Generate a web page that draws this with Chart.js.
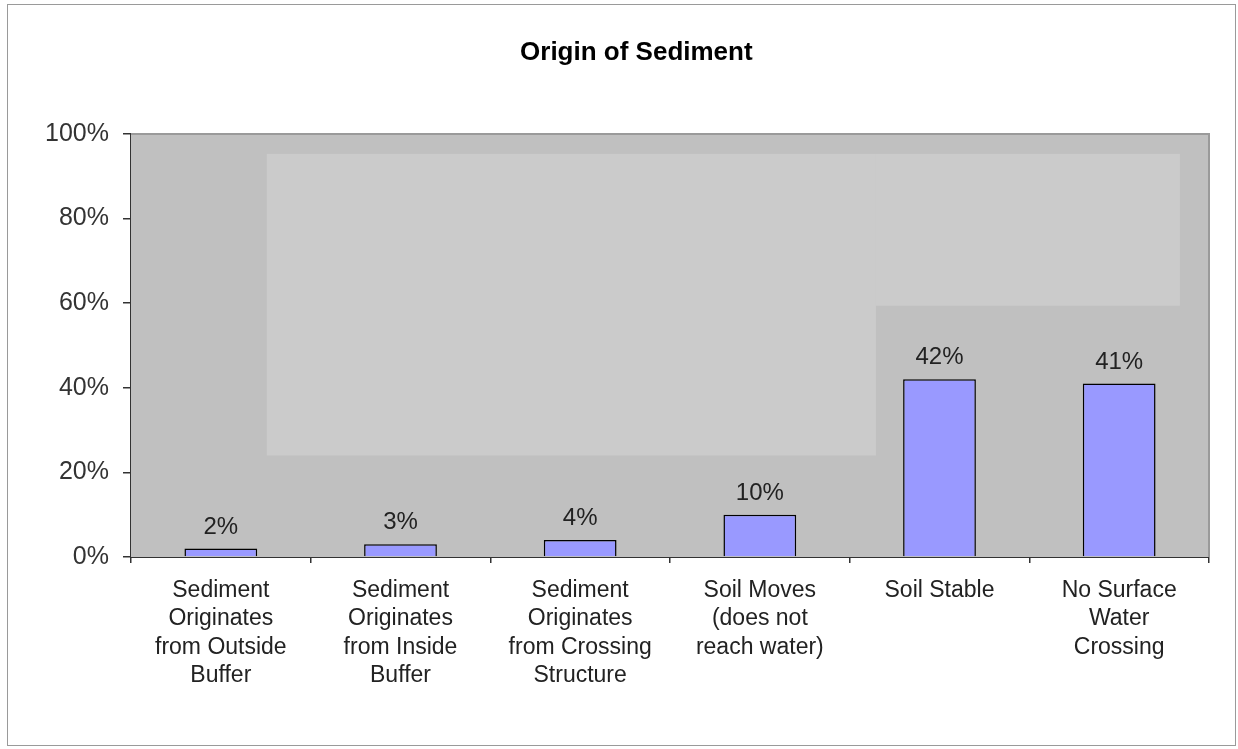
<!DOCTYPE html>
<html>
<head>
<meta charset="utf-8">
<script src="https://cdn.jsdelivr.net/npm/chart.js@4/dist/chart.umd.min.js"></script>
<style>
  html, body { margin: 0; padding: 0; background: #fff; }
  #frame { position: absolute; left: 7px; top: 4px; width: 1229px; height: 742px; border: 1px solid #9a9a9a; box-sizing: border-box; }
  #wrap { position: absolute; left: 0; top: 0; width: 1238px; height: 749px; }
</style>
</head>
<body>
<div id="frame"></div>
<div id="wrap"><canvas id="c" width="1238" height="749"></canvas></div>
<script>
const categories = [
  ["Sediment", "Originates", "from Outside", "Buffer"],
  ["Sediment", "Originates", "from Inside", "Buffer"],
  ["Sediment", "Originates", "from Crossing", "Structure"],
  ["Soil Moves", "(does not", "reach water)"],
  ["Soil Stable"],
  ["No Surface", "Water", "Crossing"]
];
const values = [2, 3, 4, 10, 42, 41];
const yTicks = [0, 20, 40, 60, 80, 100];
const titleText = "Origin of Sediment";

const FONT = '"Liberation Sans", Arial, sans-serif';

const bgPlugin = {
  id: 'bgPlugin',
  beforeDatasetsDraw(chart) {
    const { ctx, chartArea: a, scales: { y } } = chart;
    ctx.save();
    ctx.fillStyle = '#c0c0c0';
    ctx.fillRect(a.left, a.top, a.right - a.left, a.bottom - a.top);
    // lighter panel (as in the reference image)
    const w = a.right - a.left;
    const x0 = a.left + w * 0.126, x1 = a.left + w * 0.691, x2 = a.left + w * 0.973;
    const yt = y.getPixelForValue(95.3), yb1 = y.getPixelForValue(24), yb2 = y.getPixelForValue(59.4);
    ctx.fillStyle = '#cbcbcb';
    ctx.fillRect(x0, yt, x1 - x0, yb1 - yt);
    ctx.fillRect(x1, yt, x2 - x1, yb2 - yt);
    ctx.strokeStyle = '#9a9a9a';
    ctx.lineWidth = 2;
    ctx.beginPath();
    ctx.moveTo(a.left, a.top);
    ctx.lineTo(a.right, a.top);
    ctx.lineTo(a.right, a.bottom);
    ctx.stroke();
    ctx.restore();
  },
  afterDatasetsDraw(chart) {
    const { ctx, width } = chart;
    const meta = chart.getDatasetMeta(0);
    ctx.save();
    ctx.font = '24px ' + FONT;
    ctx.fillStyle = '#222';
    ctx.textAlign = 'center';
    ctx.textBaseline = 'alphabetic';
    meta.data.forEach((bar, i) => {
      ctx.fillText(values[i] + '%', bar.x, bar.y - 15);
    });
    // title
    ctx.font = 'bold 26px ' + FONT;
    ctx.fillStyle = '#000';
    ctx.fillText(titleText, width * 0.514, 60);
    ctx.restore();
  }
};

new Chart(document.getElementById('c'), {
  type: 'bar',
  data: {
    labels: categories,
    datasets: [{
      data: values,
      backgroundColor: '#9999ff',
      borderColor: '#000',
      borderWidth: 1.5,
      barPercentage: 0.405,
      categoryPercentage: 1.0
    }]
  },
  options: {
    responsive: false,
    animation: false,
    layout: { padding: { left: 0, right: 29, top: 134, bottom: 0 } },
    plugins: {
      legend: { display: false },
      tooltip: { enabled: false },
      title: { display: false }
    },
    scales: {
      x: {
        afterFit(s) { s.height = 192; },
        border: { display: true, color: '#333', width: 2 },
        grid: { display: true, drawOnChartArea: false, drawTicks: true, tickLength: 6, color: '#333', lineWidth: 1.5, offset: true },
        ticks: {
          color: '#222',
          padding: 13,
          maxRotation: 0,
          autoSkip: false,
          font: { family: FONT, size: 23, lineHeight: 1.24 }
        }
      },
      y: {
        min: 0,
        max: 100,
        afterFit(s) { s.width = 131; },
        afterBuildTicks(s) { s.ticks = yTicks.map(v => ({ value: v })); },
        border: { display: true, color: '#333', width: 2 },
        grid: { display: true, drawOnChartArea: false, drawTicks: true, tickLength: 8, color: '#333', lineWidth: 1.5 },
        ticks: {
          color: '#333',
          padding: 14,
          callback: v => v + '%',
          font: { family: FONT, size: 25 }
        }
      }
    }
  },
  plugins: [bgPlugin]
});
</script>
</body>
</html>
